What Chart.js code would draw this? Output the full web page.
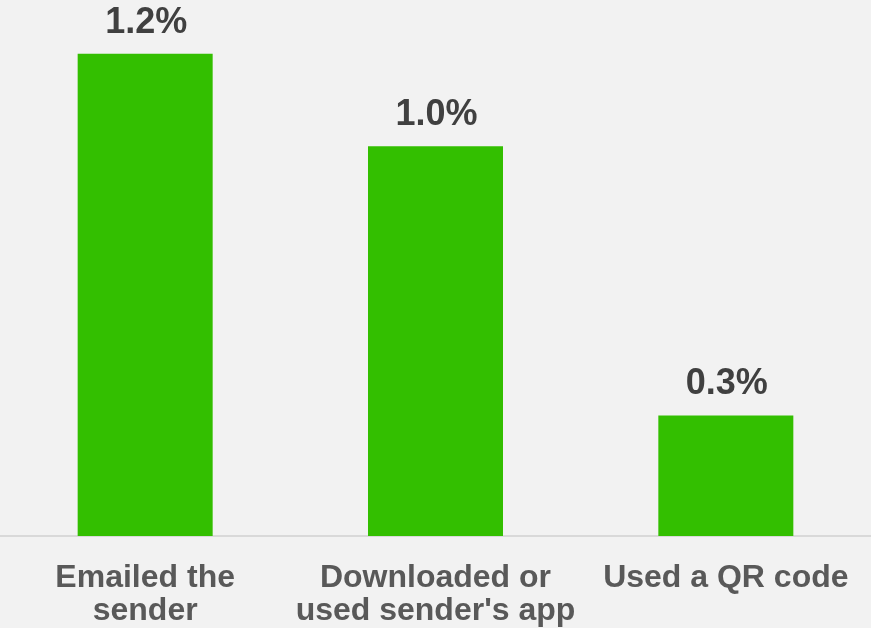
<!DOCTYPE html>
<html>
<head>
<meta charset="utf-8">
<script src="https://cdn.jsdelivr.net/npm/chart.js@4/dist/chart.umd.min.js"></script>
<style>
  html, body { margin: 0; padding: 0; background: #f2f2f2; }
  #wrap { width: 871px; height: 628px; }
</style>
</head>
<body>
<div id="wrap"><canvas id="c" width="871" height="628"></canvas></div>
<script>
const categories = [["Emailed the", "sender"], ["Downloaded or", "used sender's app"], ["Used a QR code"]];
const values = [1.2, 0.97, 0.3];
const valueLabels = ["1.2%", "1.0%", "0.3%"];

const FONT = "'Liberation Sans', Arial, sans-serif";

const valueLabelPlugin = {
    id: "valueLabels",
    afterDatasetsDraw(chart) {
        const ctx = chart.ctx;
        const meta = chart.getDatasetMeta(0);
        ctx.save();
        ctx.font = "bold 36px " + FONT;
        ctx.fillStyle = "#404040";
        ctx.textAlign = "center";
        ctx.textBaseline = "alphabetic";
        meta.data.forEach((bar, i) => {
            ctx.fillText(valueLabels[i], bar.x + 1, bar.y - 21);
        });
        ctx.restore();
    }
};

new Chart(document.getElementById("c"), {
    type: "bar",
    data: {
        labels: categories,
        datasets: [{
            data: values,
            backgroundColor: "#33bf00",
            barPercentage: 0.465,
            categoryPercentage: 1
        }]
    },
    options: {
        responsive: false,
        animation: false,
        layout: { padding: 0 },
        plugins: {
            legend: { display: false },
            tooltip: { enabled: false }
        },
        scales: {
            x: {
                grid: { display: false, drawTicks: false },
                border: { display: true, color: "#d9d9d9", width: 2 },
                ticks: {
                    color: "#595959",
                    font: { family: FONT, size: 32, weight: "bold", lineHeight: 1.05 },
                    padding: 25,
                    maxRotation: 0,
                    autoSkip: false
                },
                afterFit(scale) {
                    scale.height = 92;
                    scale.paddingLeft = 0;
                    scale.paddingRight = 0;
                }
            },
            y: {
                display: false,
                min: 0,
                max: 1.334
            }
        }
    },
    plugins: [valueLabelPlugin]
});
</script>
</body>
</html>
